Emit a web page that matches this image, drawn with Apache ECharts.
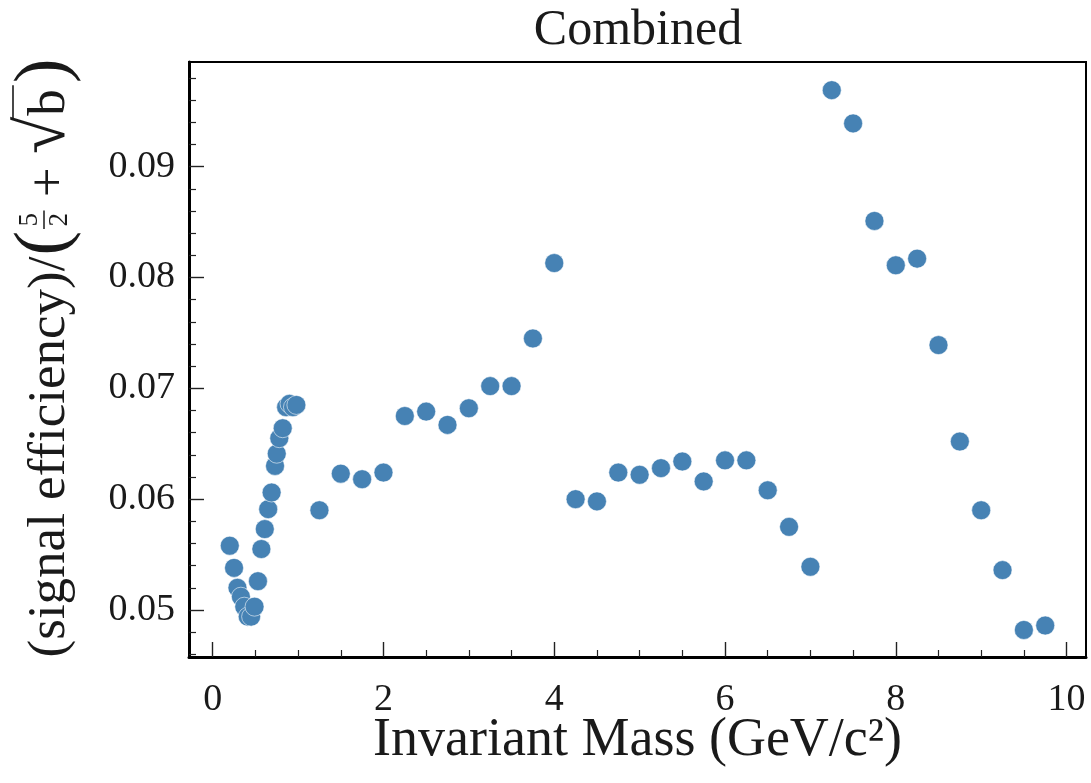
<!DOCTYPE html>
<html>
<head>
<meta charset="utf-8">
<script src="https://cdn.jsdelivr.net/npm/echarts@6/dist/echarts.min.js"></script>
<style>html,body{margin:0;padding:0;background:#fff}#chart{width:1091px;height:783px}</style>
</head>
<body>
<div id="chart"></div>
<script>
// ---- data ----
const massValues = [0.20,0.25,0.29,0.33,0.37,0.41,0.45,0.49,0.53,0.57,0.61,0.65,0.69,0.73,0.75,0.78,0.82,0.86,0.90,0.94,0.98,
  1.25,1.50,1.75,2.00,2.25,2.50,2.75,3.00,3.25,3.50,3.75,4.00,4.25,4.50,4.75,5.00,5.25,5.50,5.75,6.00,6.25,6.50,6.75,7.00,
  7.25,7.50,7.75,8.00,8.25,8.50,8.75,9.00,9.25,9.50,9.75];
const efficiencyValues = [0.0558,0.0538,0.0520,0.0512,0.0503,0.0494,0.0494,0.0503,0.0526,0.0555,0.0573,0.0591,0.0606,0.0630,0.0641,0.0655,0.0664,0.0683,0.0686,0.0683,0.0685,
  0.0590,0.0623,0.0618,0.0624,0.0675,0.0679,0.0667,0.0682,0.0702,0.0702,0.0745,0.0813,0.0600,0.0598,0.0624,0.0622,0.0628,0.0634,0.0616,0.0635,0.0635,0.0608,0.0575,0.0539,
  0.0969,0.0939,0.0851,0.0811,0.0817,0.0739,0.0652,0.0590,0.0536,0.0482,0.0486];
const xMajorTicks = [0,2,4,6,8,10];
const xMinorTicks = [0.5,1,1.5,2.5,3,3.5,4.5,5,5.5,6.5,7,7.5,8.5,9,9.5];
const yMajorTicks = [0.05,0.06,0.07,0.08,0.09];
const yMinorTicks = [0.046,0.048,0.052,0.054,0.056,0.058,0.062,0.064,0.066,0.068,0.072,0.074,0.076,0.078,0.082,0.084,0.086,0.088,0.092,0.094,0.096,0.098];
const titleText = 'Combined';
const xName = 'Invariant Mass (GeV/c\u00B2)';

// ---- layout ----
const FONT = 'Liberation Serif';
const TXT = '#1a1a1a';
const X_MIN = -0.2775, X_MAX = 10.2275, Y_MIN = 0.04576, Y_MAX = 0.09944;

const ctx = document.createElement('canvas').getContext('2d');
function tw(t, s) { ctx.font = s + 'px ' + FONT; return ctx.measureText(t).width; }

// y-axis label built from text pieces, rotated
const S = 53, P = 74, F = 27, R = 68;
const kids = [];
function txt(t, x, y, s, align) {
  kids.push({type: 'text', x: x, y: y, style: {text: t, font: s + 'px ' + FONT, fill: TXT, textAlign: align || 'left', textVerticalAlign: 'middle'}});
}
let cx = 0;
const t1 = '(signal efficiency)/';
txt(t1, cx, 0, S); cx += tw(t1, S) + 1;
txt('(', cx, -4, P); cx += tw('(', P) + 2;
const fw = Math.max(tw('5', F), tw('2', F)) + 5;
txt('5', cx + fw / 2, -20, F, 'center');
txt('2', cx + fw / 2, 10, F, 'center');
kids.push({type: 'line', shape: {x1: cx, y1: -6, x2: cx + fw, y2: -6}, style: {stroke: TXT, lineWidth: 1.5}});
cx += fw;
txt(' + ', cx, 0, S); cx += tw(' + ', S);
txt('\u221A', cx, -4, R); const sqEnd = cx + tw('\u221A', R); cx = sqEnd + 1;
txt('b', cx, 0, S);
kids.push({type: 'line', shape: {x1: sqEnd - 2, y1: -37, x2: cx + tw('b', S) + 4, y2: -37}, style: {stroke: TXT, lineWidth: 1.6}});
cx += tw('b', S) + 6;
txt(')', cx, -4, P); cx += tw(')', P);
const totalLen = cx;

const chart = echarts.init(document.getElementById('chart'), null, {renderer: 'canvas'});
const points = massValues.map((m, i) => [m, efficiencyValues[i]]);

chart.setOption({
  backgroundColor: '#ffffff',
  animation: false,
  title: {
    text: titleText, left: 638, top: 6, textAlign: 'center', padding: 0,
    textStyle: {fontFamily: FONT, fontSize: 50, fontWeight: 'normal', color: TXT}
  },
  grid: {left: 189, right: 5, top: 62, bottom: 126, show: true, borderColor: '#000', borderWidth: 2, backgroundColor: 'transparent'},
  xAxis: [{
    type: 'value', min: X_MIN, max: X_MAX, position: 'bottom',
    axisLine: {show: true, onZero: false, lineStyle: {color: '#000', width: 3}},
    axisTick: {show: true, inside: true, length: 15, customValues: xMajorTicks, lineStyle: {color: '#222', width: 1.4}},
    axisLabel: {customValues: xMajorTicks, fontFamily: FONT, fontSize: 38, color: TXT, margin: 24, formatter: v => String(v)},
    splitLine: {show: false},
    name: xName, nameLocation: 'middle', nameGap: 57, nameMoveOverlap: false,
    nameTextStyle: {fontFamily: FONT, fontSize: 54, color: TXT}
  }, {
    type: 'value', min: X_MIN, max: X_MAX, position: 'bottom',
    axisLine: {show: false, onZero: false},
    axisTick: {show: true, inside: true, length: 7, customValues: xMinorTicks, lineStyle: {color: '#222', width: 1.2}},
    axisLabel: {show: false}, splitLine: {show: false}
  }],
  yAxis: [{
    type: 'value', min: Y_MIN, max: Y_MAX, position: 'left',
    axisLine: {show: true, onZero: false, lineStyle: {color: '#000', width: 3}},
    axisTick: {show: true, inside: true, length: 15, customValues: yMajorTicks, lineStyle: {color: '#222', width: 1.4}},
    axisLabel: {customValues: yMajorTicks, fontFamily: FONT, fontSize: 38, color: TXT, margin: 14, formatter: v => v.toFixed(2)},
    splitLine: {show: false}
  }, {
    type: 'value', min: Y_MIN, max: Y_MAX, position: 'left',
    axisLine: {show: false, onZero: false},
    axisTick: {show: true, inside: true, length: 7, customValues: yMinorTicks, lineStyle: {color: '#222', width: 1.2}},
    axisLabel: {show: false}, splitLine: {show: false}
  }],
  graphic: [{
    type: 'group', x: 50, y: 358 + totalLen / 2, rotation: Math.PI / 2, children: kids
  }],
  series: [{
    type: 'scatter', xAxisIndex: 0, yAxisIndex: 0, data: points,
    symbol: 'circle', symbolSize: 19,
    itemStyle: {color: '#4682b4', borderColor: 'rgba(255,255,255,0.7)', borderWidth: 0.8, opacity: 1}
  }]
});
</script>
</body>
</html>
